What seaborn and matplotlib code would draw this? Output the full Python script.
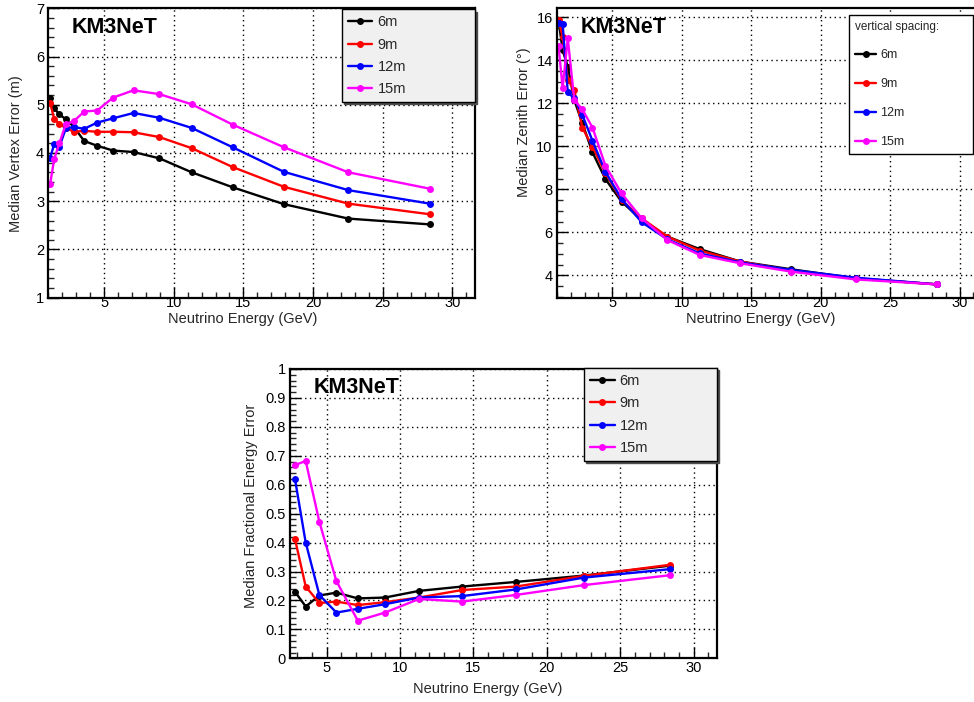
import numpy as np
import pandas as pd
import matplotlib
matplotlib.use("Agg")
import matplotlib.pyplot as plt
from matplotlib.ticker import MultipleLocator, FuncFormatter
import seaborn as sns

# ---------------- data ----------------
spacings = ["6m", "9m", "12m", "15m"]
colors = ["#000000", "#ff0000", "#0000ff", "#ff00ff"]

energy = [1.13, 1.42, 1.79, 2.26, 2.84, 3.57, 4.50, 5.66, 7.12, 8.97,
          11.29, 14.22, 17.90, 22.53, 28.37]

vertex_6m = [5.15, 4.93, 4.80, 4.70, 4.54, 4.25, 4.15, 4.05, 4.02, 3.89, 3.60, 3.29, 2.94, 2.64, 2.52]
vertex_9m = [5.04, 4.71, 4.60, 4.52, 4.44, 4.46, 4.44, 4.44, 4.43, 4.33, 4.10, 3.71, 3.30, 2.95, 2.73]
vertex_12m = [3.90, 4.18, 4.13, 4.51, 4.54, 4.50, 4.63, 4.72, 4.83, 4.73, 4.52, 4.12, 3.61, 3.23, 2.95]
vertex_15m = [3.35, 3.87, 4.20, 4.60, 4.66, 4.86, 4.88, 5.15, 5.30, 5.22, 5.01, 4.59, 4.12, 3.60, 3.26]

zenith_6m = [15.85, 14.48, 13.70, 12.15, 11.07, 9.72, 8.48, 7.43, 6.57, 5.80, 5.22, 4.64, 4.28, 3.86, 3.58]
zenith_9m = [15.88, 15.10, 13.10, 12.60, 10.87, 9.98, 8.75, 7.50, 6.65, 5.80, 5.15, 4.64, 4.22, 3.86, 3.58]
zenith_12m = [15.75, 15.70, 12.51, 12.23, 11.46, 10.26, 8.82, 7.55, 6.47, 5.67, 5.02, 4.60, 4.25, 3.89, 3.58]
zenith_15m = [14.65, 12.70, 15.02, 12.15, 11.72, 10.87, 9.10, 7.81, 6.65, 5.64, 4.95, 4.56, 4.17, 3.81, 3.58]

energy_frac = [2.84, 3.57, 4.50, 5.66, 7.12, 8.97, 11.29, 14.22, 17.90, 22.53, 28.37]
frac_6m = [0.230, 0.179, 0.217, 0.227, 0.207, 0.210, 0.233, 0.248, 0.264, 0.286, 0.320]
frac_9m = [0.412, 0.248, 0.191, 0.196, 0.184, 0.194, 0.210, 0.236, 0.248, 0.285, 0.323]
frac_12m = [0.619, 0.400, 0.219, 0.158, 0.171, 0.187, 0.210, 0.215, 0.238, 0.279, 0.308]
frac_15m = [0.668, 0.682, 0.472, 0.267, 0.130, 0.158, 0.205, 0.196, 0.219, 0.253, 0.287]

x_ticks = [5, 10, 15, 20, 25, 30]


def long_df(x, series):
    rows = []
    for name, vals in zip(spacings, series):
        for xi, yi in zip(x, vals):
            rows.append({"energy": xi, "value": yi, "spacing": name})
    return pd.DataFrame(rows)


df_vertex = long_df(energy, [vertex_6m, vertex_9m, vertex_12m, vertex_15m])
df_zenith = long_df(energy, [zenith_6m, zenith_9m, zenith_12m, zenith_15m])
df_frac = long_df(energy_frac, [frac_6m, frac_9m, frac_12m, frac_15m])

# ---------------- style ----------------
sns.set_style("white")
plt.rcParams["font.family"] = ["Liberation Sans", "DejaVu Sans"]
plt.rcParams["mathtext.default"] = "regular"

W, H = 974, 702
fig = plt.figure(figsize=(W / 100, H / 100), dpi=100)
fig.patch.set_facecolor("white")


def px_axes(left, top, right, bottom):
    return fig.add_axes([left / W, 1 - bottom / H, (right - left) / W, (bottom - top) / H])


palette = dict(zip(spacings, colors))


def style_axes(ax, xlim, ylim, ymajor, yminor, ylabel, xlabel, ylab_xy, xlab_xy,
               xpad=3, yfmt=None):
    ax.set_xlim(*xlim)
    ax.set_ylim(*ylim)
    ax.set_xticks(x_ticks)
    ax.xaxis.set_minor_locator(MultipleLocator(1))
    ax.yaxis.set_major_locator(MultipleLocator(ymajor))
    ax.yaxis.set_minor_locator(MultipleLocator(yminor))
    if yfmt is not None:
        ax.yaxis.set_major_formatter(FuncFormatter(yfmt))
    ax.tick_params(axis="both", which="major", direction="in", length=8, width=1.0,
                   labelsize=10.5, pad=3, color="black", labelcolor="black",
                   left=True, bottom=True, top=False, right=False)
    ax.tick_params(axis="both", which="minor", direction="in", length=4, width=1.0,
                   left=True, bottom=True, top=False, right=False)
    ax.tick_params(axis="x", which="major", pad=xpad)
    ax.grid(True, which="major", linestyle=(0, (1, 2.5)), color="black", linewidth=1.0)
    ax.set_axisbelow(True)
    for s in ax.spines.values():
        s.set_color("black")
        s.set_linewidth(1.6)
        s.set_visible(True)
    ax.set_ylabel(ylabel, fontsize=10.5)
    ax.set_xlabel(xlabel, fontsize=10.5)
    ax.yaxis.label.set_verticalalignment("center")
    ax.xaxis.label.set_verticalalignment("center")
    ax.yaxis.set_label_coords(*ylab_xy)
    ax.xaxis.set_label_coords(*xlab_xy)
    ax.text(0.055, 0.935, "KM3NeT", transform=ax.transAxes, fontsize=15.5,
            fontweight="bold", va="center", ha="left", color="black")


def draw(ax, df):
    sns.lineplot(data=df, x="energy", y="value", hue="spacing", hue_order=spacings,
                 palette=palette, marker="o", markersize=5, markeredgewidth=0,
                 linewidth=1.7, ax=ax, legend=False, sort=False, estimator=None)
    return ax.get_lines()[:4]


def add_legend(ax, lines, box, title=None, facecolor="#f0f0f0", fontsize=10,
               labelspacing=0.55, shadow=True, handlelength=2.0, borderpad=0.4):
    leg = ax.legend(lines, spacings, loc="upper left", bbox_to_anchor=box, mode="expand",
                    borderaxespad=0, frameon=True, fancybox=False,
                    facecolor=facecolor, edgecolor="black", framealpha=1,
                    fontsize=fontsize, handlelength=handlelength, handletextpad=0.35,
                    labelspacing=labelspacing, borderpad=borderpad,
                    title=title, title_fontsize=8.5, alignment="left",
                    shadow={"color": "0.3", "alpha": 1, "ox": 1.5, "oy": -1.5} if shadow else False)
    leg.get_frame().set_linewidth(1.0)
    return leg


def px_box(ax_left, ax_top, ax_w, ax_h, left, top, right, bottom):
    # bounding box (axes fraction) from pixel coordinates
    x0 = (left - ax_left) / ax_w
    x1 = (right - ax_left) / ax_w
    y1 = (ax_top + ax_h - top) / ax_h
    y0 = (ax_top + ax_h - bottom) / ax_h
    return (x0, y0, x1 - x0, y1 - y0)


# ---------- top-left: vertex error ----------
ax1 = px_axes(48.3, 8.3, 475, 297.7)
l1 = draw(ax1, df_vertex)
style_axes(ax1, (1.0, 31.62), (1, 7), 1, 0.2,
           "Median Vertex Error (m)", "Neutrino Energy (GeV)",
           ((16 - 48.3) / 426.7, (297.7 - 154) / 289.4),
           (0.456, (297.7 - 319) / 289.4), xpad=-1.5)
add_legend(ax1, l1, px_box(48.3, 8.3, 426.7, 289.4, 341.7, 9.5, 475, 98),
           fontsize=10.5, labelspacing=0.57, handlelength=1.7, borderpad=0.4)

# ---------- top-right: zenith error ----------
ax2 = px_axes(556.8, 8.3, 982, 297.7)
l2 = draw(ax2, df_zenith)
style_axes(ax2, (1.0, 31.62), (2.96, 16.42), 2, 0.5,
           "Median Zenith Error (°)", "Neutrino Energy (GeV)",
           ((524 - 556.8) / 425.2, (297.7 - 121.7) / 289.4),
           ((760.8 - 556.8) / 425.2, (297.7 - 319) / 289.4), xpad=-1.5)
add_legend(ax2, l2, px_box(556.8, 8.3, 425.2, 289.4, 849.3, 15, 973, 153),
           title="vertical spacing:", facecolor="white", fontsize=9,
           labelspacing=1.35, shadow=False, handlelength=1.7, borderpad=0.45)

# ---------- bottom: fractional energy error ----------
ax3 = px_axes(290, 369, 717.3, 658.3)
l3 = draw(ax3, df_frac)
style_axes(ax3, (2.5, 31.62), (0, 1), 0.1, 0.02,
           "Median Fractional Energy Error", "Neutrino Energy (GeV)",
           ((251 - 290) / 427.3, (658.3 - 506) / 289.3),
           (0.462, (658.3 - 689.5) / 289.3), xpad=2,
           yfmt=lambda v, p: "%g" % round(v, 2))
add_legend(ax3, l3, px_box(290, 369, 427.3, 289.3, 584, 368.3, 717.3, 459.3),
           fontsize=10.5, labelspacing=0.57, handlelength=1.7, borderpad=0.4)

fig.savefig("out.png", dpi=100, facecolor="white")
